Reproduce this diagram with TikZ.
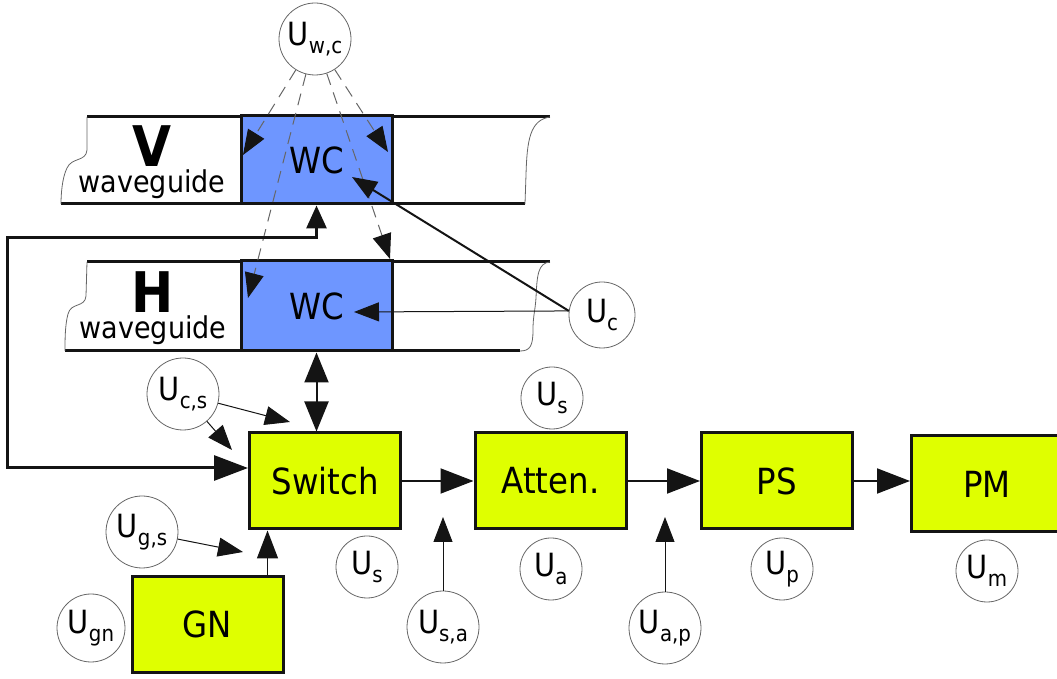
\documentclass[tikz,border=0pt]{standalone}
\usepackage{fontspec}
\setmainfont{DejaVu Sans}[FakeStretch=0.9]
\usetikzlibrary{arrows.meta,positioning,calc}
\definecolor{wcblue}{RGB}{110,150,255}
\definecolor{lime}{RGB}{223,255,0}
\definecolor{ink}{RGB}{20,20,20}
\newcommand{\usig}[1]{U\raisebox{-4pt}{\fontsize{11}{11}\selectfont#1}}
\newcommand{\wgname}[1]{{\fontsize{28}{13}\selectfont\bfseries #1}\\waveguide}
\tikzset{
  blk/.style={draw=ink,fill=#1,line width=1.5pt,minimum width=75.5pt,minimum height=48pt,
    inner sep=0pt,font=\fontsize{18}{20}\selectfont},
  blk/.default=lime,
  sig/.style={circle,draw=black!60,line width=0.4pt,minimum size=#1,inner sep=0pt,
    font=\fontsize{16}{18}\selectfont},
  sig/.default=31pt,
  % connectors
  flow/.style={-{Triangle[length=16.5pt,width=12.5pt]},line width=1pt,draw=ink},
  sigarr/.style={-{Triangle[length=12.5pt,width=9.5pt]},line width=0.5pt,draw=ink},
  ctl/.style={-{Triangle[length=12.5pt,width=9.5pt,color=ink]},line width=0.5pt,
    draw=black!60,dash pattern=on 6pt off 4pt},
  % waveguide outline
  wg/.style={line width=1.5pt,draw=ink},
  brk/.style={line width=0.4pt,draw=black!60},
  wgtxt/.style={font=\fontsize{15}{13}\selectfont,align=center,anchor=north,inner sep=0pt},
}
\begin{document}
\begin{tikzpicture}[x=0.5pt,y=-0.5pt]
  \useasboundingbox (0,0) rectangle (1057,679);
  % waveguides
  \draw[wg] (87,117) -- (550,117) (61,204) -- (525,204);
  \draw[wg] (87,262) -- (550,262) (65,351) -- (520,351);
  \draw[brk] (87,117) -- (87,150) .. controls (86,162) and (72,157) .. (67,168)
    .. controls (62,178) and (61,195) .. (61,204);
  \draw[brk] (87,262) -- (86,296) .. controls (85,308) and (71,302) .. (68,314)
    .. controls (65,325) and (65,340) .. (65,351);
  \draw[brk] (550,117) .. controls (530,120) and (527,140) .. (526,175) -- (525,204);
  \draw[brk] (550,262) .. controls (538,263) and (537,275) .. (536,298)
    .. controls (535,312) and (533,316) .. (533,330) .. controls (533,346) and (530,351) .. (520,351);
  \node[wgtxt] (vtxt) at (152,125) {\wgname{V}};
  \node[wgtxt] (htxt) at (153,271) {\wgname{H}};
  % blocks
  \node[blk=wcblue,minimum height=44pt] (vwc) at (316.5,160) {WC};
  \node[blk=wcblue,minimum height=45pt] (hwc) at (316.5,306) {WC};
  \node[blk] (switch) at (325,481) {Switch};
  \node[blk] (gn) at (207.5,624.5) {GN};
  \node[blk] (atten) at (550.5,481) {Atten.};
  \node[blk] (ps) at (777,481) {PS};
  \node[blk] (pm) at (987,484) {PM};
  % signals
  \node[sig=36pt] (uwc) at (315,39) {\usig{w,c}};
  \node[sig=33pt] (uc) at (602,315) {\usig{c}};
  \node[sig=36pt] (ucs) at (183,394) {\usig{c,s}};
  \node[sig=36pt] (ugs) at (142,532) {\usig{g,s}};
  \node[sig=34pt] (ugn) at (91,628) {\usig{gn}};
  \node[sig] (us) at (367,567) {\usig{s}};
  \node[sig=36pt] (usa) at (443,627) {\usig{s,a}};
  \node[sig] (uss) at (552,398) {\usig{s}};
  \node[sig] (ua) at (551,569) {\usig{a}};
  \node[sig=36pt] (uap) at (665,628) {\usig{a,p}};
  \node[sig] (up) at (782,569) {\usig{p}};
  \node[sig] (um) at (987,571) {\usig{m}};
  % arrow ends
  \coordinate (vin1) at (243,155);
  \coordinate (vin2) at (388,152);
  \coordinate (hin1) at (248,298);
  \coordinate (hin2) at (390,259);
  \coordinate (vc) at (352,177);
  \coordinate (hc) at (354,312);
  \coordinate (cs1) at (290,422);
  \coordinate (cs2) at (232,450);
  \coordinate (gs) at (243,552);
  \coordinate (sa) at (443,517);
  \coordinate (ap) at (665,517);
  \coordinate (fbtop) at (7,238);
  \coordinate (fbbot) at (7,468);
  % connectors
  \foreach \t in {vin1,vin2,hin1,hin2} \draw[ctl] (uwc) -- (\t);
  \draw[sigarr,line width=1pt] (uc.173) -- (vc);
  \draw[sigarr] (uc.173) -- (hc);
  \draw[flow,{Triangle[length=11.5pt,width=10pt]}-{Triangle[length=17pt,width=12.5pt]},line width=1.5pt]
    (vwc.south) |- (fbtop) -- (fbbot) -- (fbbot -| switch.west);
  \draw[flow,{Triangle[length=15pt,width=12pt]}-{Triangle[length=15pt,width=12pt]}]
    (hwc.south) -- (hwc.south |- switch.north);
  \draw[flow,-{Triangle[length=14pt,width=10.5pt]},line width=0.7pt]
    ([xshift=-8.5pt]gn.north east) -- ([xshift=-8.5pt]gn.north east |- switch.south);
  \draw[flow] (switch) -- (atten);
  \draw[flow] (atten) -- (ps);
  \draw[flow] (ps.east) -- (ps.east -| pm.west);
  \foreach \s/\t in {ucs/cs1,ucs/cs2,ugs/gs,usa/sa,uap/ap} \draw[sigarr] (\s) -- (\t);
\end{tikzpicture}
\end{document}
